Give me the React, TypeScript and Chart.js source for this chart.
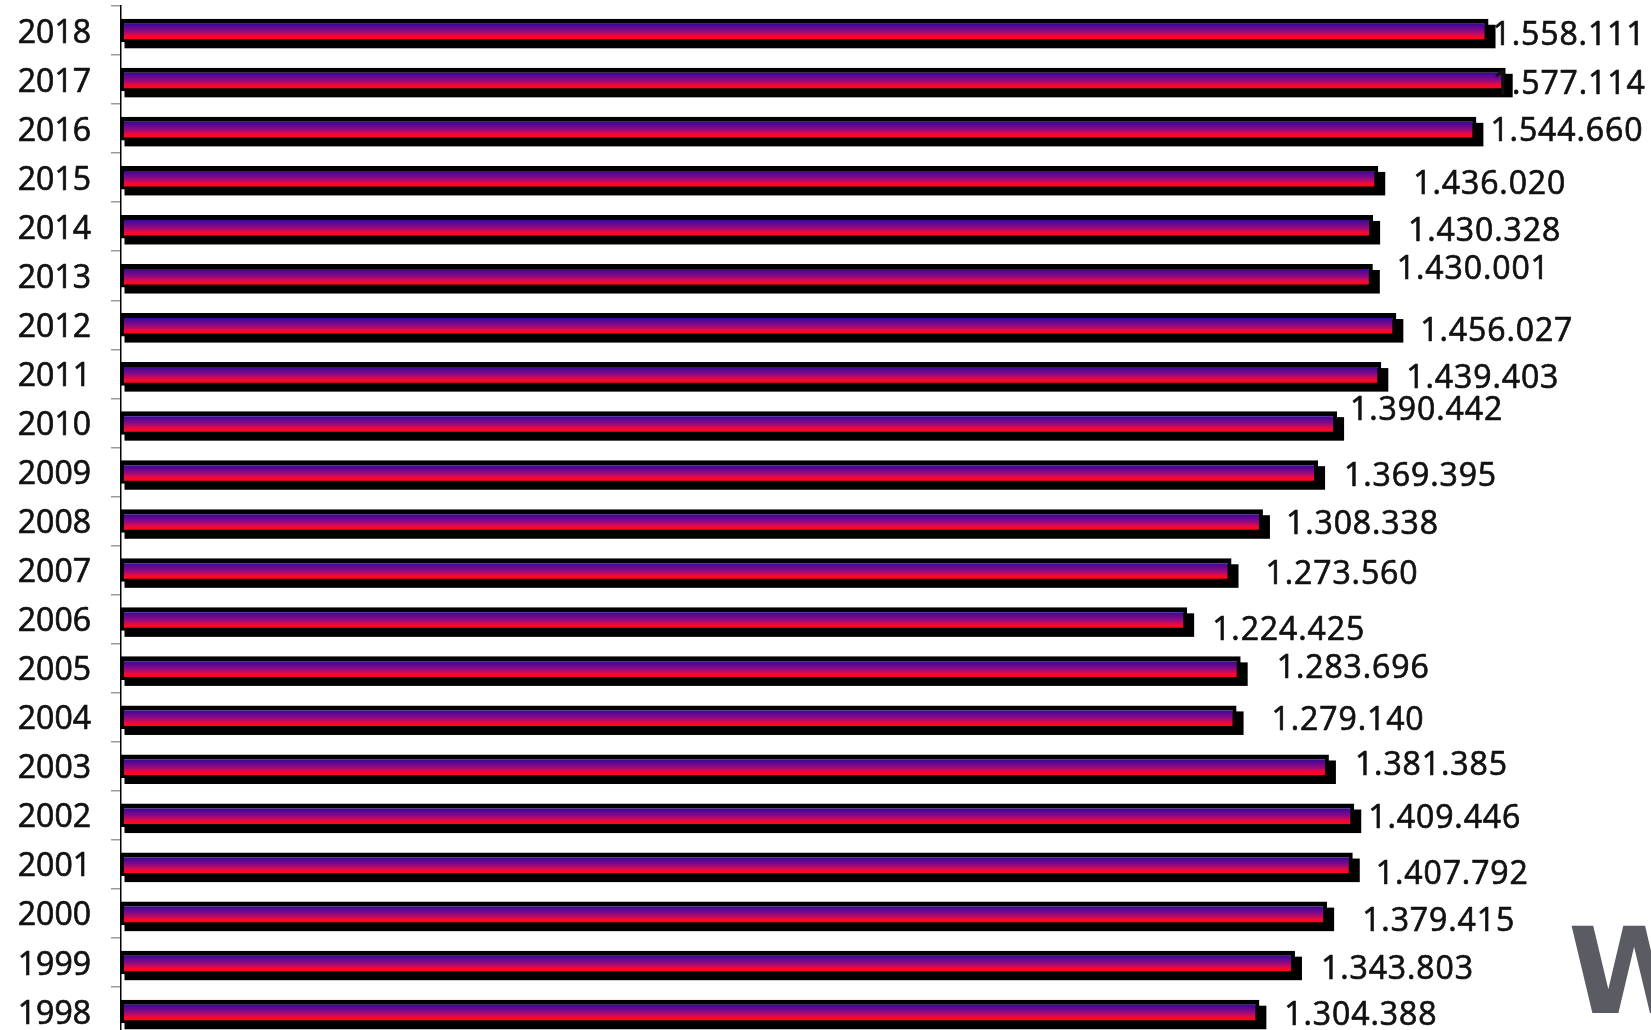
import React, { useEffect, useRef } from "react";
import { Chart, registerables } from "chart.js";

Chart.register(...registerables);

// ---- data ----
const years = [
  "2018", "2017", "2016", "2015", "2014", "2013", "2012", "2011", "2010", "2009", "2008",
  "2007", "2006", "2005", "2004", "2003", "2002", "2001", "2000", "1999", "1998",
];
const values = [
  1558111, 1577114, 1544660, 1436020, 1430328, 1430001, 1456027, 1439403, 1390442, 1369395,
  1308338, 1273560, 1224425, 1283696, 1279140, 1381385, 1409446, 1407792, 1379415, 1343803,
  1304388,
];
// manual nudges of the value labels (relative to their default spot right of the bar)
const labelNudgeX = [-21, -38, -11, 10, 10, -1, -1, 0, -12, 1, -2, 9, 0, 11, 10, 1, -11, -2, 10, 1, 0];
const labelNudgeY = [1, 1, -1, 3, 1, -10, 3, 1, -16, 1, 0, 1, 8, -3, 0, -4, 0, 7, 5, 3, 0];

const X_MIN = 44000;
const X_MAX = 1738000;
const BAR_PCT = 0.48;
const FONT = '"Open Sans", "Noto Sans", sans-serif';

const fmt = (v: number) => String(v).replace(/\B(?=(\d{3})+(?!\d))/g, ".");

const shadowPlugin = {
  id: "barShadow",
  beforeDatasetsDraw(chart: any) {
    const ctx = chart.ctx;
    const meta = chart.getDatasetMeta(0);
    const left = chart.chartArea.left;
    ctx.save();
    ctx.fillStyle = "#000";
    meta.data.forEach((el: any) => {
      const { x, y, base, height } = el.getProps(["x", "y", "base", "height"], true);
      const b = Math.max(base, left);
      ctx.fillRect(b + 3.5, y - height / 2 + 6, x - b + 3.5, height);
    });
    ctx.restore();
  },
};

const labelPlugin = {
  id: "valueLabels",
  afterDatasetsDraw(chart: any) {
    const ctx = chart.ctx;
    const meta = chart.getDatasetMeta(0);
    ctx.save();
    ctx.font = `32px ${FONT}`;
    (ctx as any).letterSpacing = "0.9px";
    ctx.fillStyle = "#111";
    ctx.strokeStyle = "#111";
    ctx.lineWidth = 0.7;
    ctx.textAlign = "left";
    ctx.textBaseline = "middle";
    meta.data.forEach((el: any, i: number) => {
      const { x, y } = el.getProps(["x", "y"], true);
      const tx = x + 25 + labelNudgeX[i];
      const ty = y + 4 + labelNudgeY[i];
      ctx.fillText(fmt(values[i]), tx, ty);
      ctx.strokeText(fmt(values[i]), tx, ty);
    });
    ctx.restore();
  },
  afterDraw(chart: any) {
    const ctx = chart.ctx;
    ctx.save();
    ctx.font = 'bold 120px "DejaVu Sans", sans-serif';
    ctx.fillStyle = "#5b5b63";
    ctx.textAlign = "left";
    ctx.textBaseline = "alphabetic";
    ctx.fillText("W", 1568, 1013);
    ctx.restore();
  },
};

function barGradient(c: any) {
  const chart = c.chart;
  const ys = chart.scales?.y;
  if (!ys || c.dataIndex === undefined) return "#8c0a82";
  const y = ys.getPixelForValue(c.dataIndex);
  const band = Math.abs(ys.getPixelForValue(1) - ys.getPixelForValue(0));
  const h = band * BAR_PCT;
  const y0 = y - h / 2 + 5;
  const y1 = y + h / 2 - 3;
  if (!Number.isFinite(y0) || !Number.isFinite(y1) || y1 <= y0) return "#8c0a82";
  const g = chart.ctx.createLinearGradient(0, y0, 0, y1);
  g.addColorStop(0, "#38089a");
  g.addColorStop(0.45, "#8a0a84");
  g.addColorStop(0.8, "#ee0a40");
  g.addColorStop(0.82, "#ff0622");
  g.addColorStop(1, "#ff0622");
  return g;
}

export default function App() {
  const ref = useRef<HTMLCanvasElement>(null);

  useEffect(() => {
    if (!ref.current) return;
    const chart = new Chart(ref.current, {
      type: "bar",
      data: {
        labels: years,
        datasets: [
          {
            data: values,
            base: X_MIN,
            backgroundColor: barGradient,
            borderColor: "#000",
            borderWidth: { top: 5, right: 4, bottom: 3, left: 3 } as any,
            borderSkipped: false,
            barPercentage: BAR_PCT,
            categoryPercentage: 1,
          } as any,
        ],
      },
      options: {
        indexAxis: "y",
        animation: false,
        responsive: false,
        devicePixelRatio: 1,
        layout: { padding: { top: 6, right: 0, bottom: 0, left: 0 } },
        plugins: { legend: { display: false }, tooltip: { enabled: false } },
        scales: {
          x: { display: false, min: X_MIN, max: X_MAX },
          y: {
            afterFit: (s: any) => {
              s.width = 121;
              s.paddingTop = 0;
              s.paddingBottom = 0;
            },
            grid: {
              drawOnChartArea: false,
              drawTicks: true,
              tickLength: 10,
              color: "#9a9a9a",
              lineWidth: 1.5,
            },
            border: { display: true, color: "#000", width: 1.5 },
            ticks: {
              padding: 20,
              labelOffset: 3,
              color: "#111",
              textStrokeColor: "#111",
              textStrokeWidth: 0.7,
              font: { family: FONT, size: 32 },
            } as any,
          },
        },
      },
      plugins: [shadowPlugin, labelPlugin],
    });
    chart.update();
    return () => chart.destroy();
  }, []);

  return (
    <div
      style={{
        position: "fixed",
        left: 0,
        top: 0,
        width: 1651,
        height: 1030,
        overflow: "hidden",
        background: "#fff",
      }}
    >
      <canvas ref={ref} width={1651} height={1036} style={{ display: "block" }} />
    </div>
  );
}
